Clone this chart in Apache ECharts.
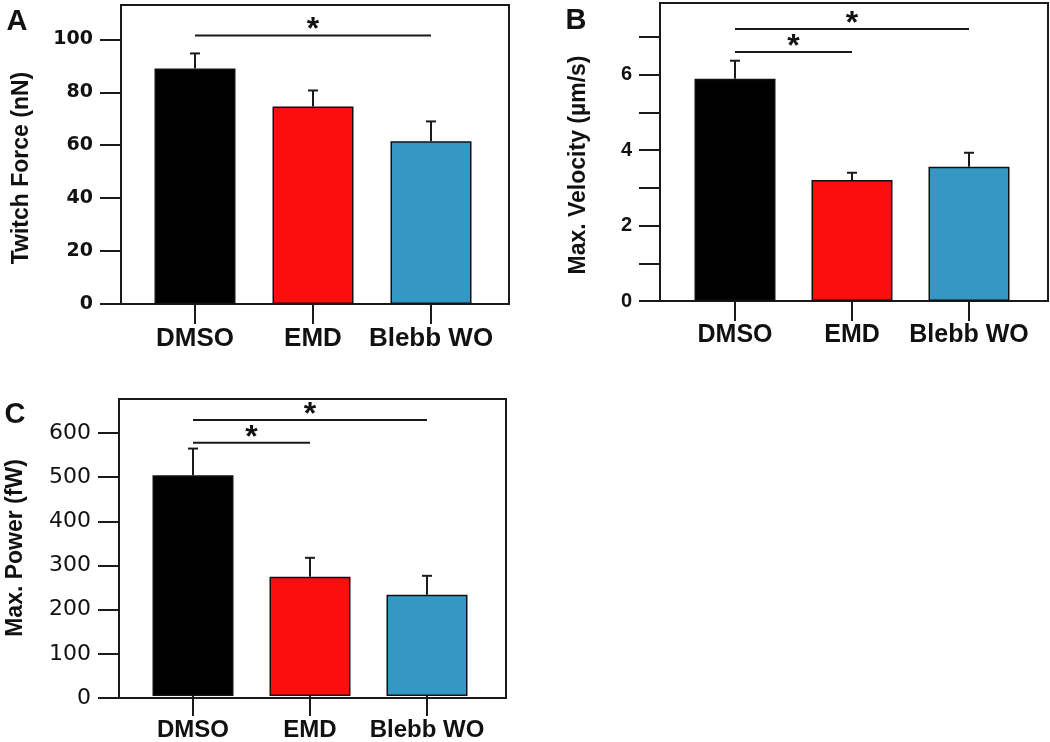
<!DOCTYPE html>
<html>
<head>
<meta charset="utf-8">
<script src="https://cdn.jsdelivr.net/npm/echarts@6/dist/echarts.min.js"></script>
<style>
  html, body { margin: 0; padding: 0; background: #fff; }
  #main { width: 1050px; height: 742px; }
</style>
</head>
<body>
<div id="main"></div>
<script>
const categories = ["DMSO", "EMD", "Blebb WO"];

// A: twitch force (nN)
const forceMean = [89, 74.6, 61.5];
const forceErr = [5.7, 6.1, 7.5];
const forceTicks = [0, 20, 40, 60, 80, 100];
const forceSig = [[0, 2, 101.5]];

// B: max velocity (um/s)
const velocityMean = [5.89, 3.21, 3.56];
const velocityErr = [0.48, 0.19, 0.37];
const velocityTicks = [0, 1, 2, 3, 4, 5, 6, 7];
const velocityLabels = [0, 2, 4, 6];
const velocitySig = [[0, 2, 7.21], [0, 1, 6.6]];

// C: max power (fW)
const powerMean = [503, 272, 231];
const powerErr = [61, 43, 43];
const powerTicks = [0, 100, 200, 300, 400, 500, 600];
const powerSig = [[0, 2, 629], [0, 1, 577]];

const barColors = ["#000000", "#fb0e0e", "#3497c4"];
const ink = "#1a1a1a";

const chart = echarts.init(document.getElementById("main"));

const grids = [];
const xAxes = [];
const yAxes = [];
const series = [];

// one panel = a frame grid (box + y ticks) and a data grid (bars + category ticks)
function addPanel(p) {
  const fi = grids.length;
  const di = fi + 1;
  grids.push({
    left: p.left, top: p.top, width: p.width, height: p.height,
    show: true, borderColor: ink, borderWidth: 2, backgroundColor: "transparent"
  });
  grids.push({ left: p.dataLeft, top: p.top, width: p.dataWidth, height: p.height });

  xAxes.push({ gridIndex: fi, type: "value", min: 0, max: 1, show: false });
  yAxes.push({
    gridIndex: fi, type: "value", min: 0, max: p.max,
    axisLine: { show: true, lineStyle: { color: ink, width: 2 } },
    axisTick: { show: true, length: 21, customValues: p.ticks, lineStyle: { color: ink, width: 2 } },
    axisLabel: {
      customValues: p.labels, margin: 28, color: "#111",
      fontFamily: p.labelFont, fontWeight: p.labelWeight, fontSize: p.labelSize
    },
    splitLine: { show: false }
  });

  xAxes.push({
    gridIndex: di, type: "category", data: categories,
    axisLine: { show: false },
    axisTick: { show: true, alignWithLabel: true, length: 20, lineStyle: { color: ink, width: 2 } },
    axisLabel: {
      interval: 0, hideOverlap: false,
      margin: 22, color: "#111", fontFamily: "Liberation Sans",
      fontWeight: "bold", fontSize: p.catSize
    }
  });
  yAxes.push({ gridIndex: di, type: "value", min: 0, max: p.max, show: false });

  series.push({
    type: "bar", xAxisIndex: di, yAxisIndex: di, barWidth: 81,
    data: p.mean.map((v, i) => ({ value: v, itemStyle: { color: barColors[i] } })),
    itemStyle: { borderColor: "#111", borderWidth: 1.5 },
    silent: true, animation: false
  });

  series.push({
    type: "custom", xAxisIndex: di, yAxisIndex: di, silent: true, animation: false, z: 5,
    data: p.mean.map((v, i) => [i, v, p.err[i]]),
    encode: { x: 0, y: 1 },
    renderItem: function (params, api) {
      const i = api.value(0);
      const m = api.value(1);
      const e = api.value(2);
      const base = api.coord([i, m]);
      const top = api.coord([i, m + e]);
      const st = { stroke: ink, lineWidth: 2 };
      return {
        type: "group",
        children: [
          { type: "line", shape: { x1: base[0], y1: base[1], x2: top[0], y2: top[1] }, style: st },
          { type: "line", shape: { x1: top[0] - 5, y1: top[1], x2: top[0] + 5, y2: top[1] }, style: st }
        ]
      };
    }
  });

  series.push({
    type: "custom", xAxisIndex: di, yAxisIndex: di, silent: true, animation: false, z: 5,
    data: p.sig,
    encode: { x: [0, 1], y: 2 },
    renderItem: function (params, api) {
      const a = api.coord([api.value(0), api.value(2)]);
      const b = api.coord([api.value(1), api.value(2)]);
      return {
        type: "group",
        children: [
          { type: "line", shape: { x1: a[0], y1: a[1], x2: b[0], y2: b[1] }, style: { stroke: ink, lineWidth: 2 } },
          {
            type: "text",
            style: {
              text: "*", x: (a[0] + b[0]) / 2, y: a[1] + 11, align: "center", verticalAlign: "bottom",
              fontFamily: "Liberation Sans", fontWeight: "bold", fontSize: 32, fill: "#111"
            }
          }
        ]
      };
    }
  });
}

addPanel({
  left: 121, top: 5, width: 388, height: 299, dataLeft: 136, dataWidth: 354,
  max: 113, ticks: forceTicks, labels: forceTicks,
  labelFont: "DejaVu Sans", labelWeight: "bold", labelSize: 19, catSize: 26,
  mean: forceMean, err: forceErr, sig: forceSig
});
addPanel({
  left: 660, top: 3, width: 388, height: 298, dataLeft: 676.5, dataWidth: 351,
  max: 7.9, ticks: velocityTicks, labels: velocityLabels,
  labelFont: "Liberation Sans", labelWeight: "bold", labelSize: 20, catSize: 25,
  mean: velocityMean, err: velocityErr, sig: velocitySig
});
addPanel({
  left: 119, top: 399, width: 387, height: 299, dataLeft: 134.5, dataWidth: 351,
  max: 677, ticks: powerTicks, labels: powerTicks,
  labelFont: "DejaVu Sans", labelWeight: "normal", labelSize: 22, catSize: 24,
  mean: powerMean, err: powerErr, sig: powerSig
});

function vTitle(text, x, y) {
  return {
    type: "text", x: x, y: y, rotation: Math.PI / 2,
    style: {
      text: text, align: "center", verticalAlign: "middle", fill: "#111",
      fontFamily: "Liberation Sans", fontWeight: "bold", fontSize: 23
    }
  };
}
function letter(text, x, y) {
  return {
    type: "text", x: x, y: y,
    style: {
      text: text, align: "center", verticalAlign: "middle", fill: "#111",
      fontFamily: "Liberation Sans", fontWeight: "bold", fontSize: 29
    }
  };
}

chart.setOption({
  backgroundColor: "#fff",
  animation: false,
  grid: grids,
  xAxis: xAxes,
  yAxis: yAxes,
  series: series,
  graphic: [
    vTitle("Twitch Force (nN)", 22, 168),
    vTitle("Max. Velocity (\u00b5m/s)", 579, 165),
    vTitle("Max. Power (fW)", 16, 548),
    letter("A", 17, 22),
    letter("B", 576, 21),
    letter("C", 15, 415)
  ]
});
</script>
</body>
</html>
